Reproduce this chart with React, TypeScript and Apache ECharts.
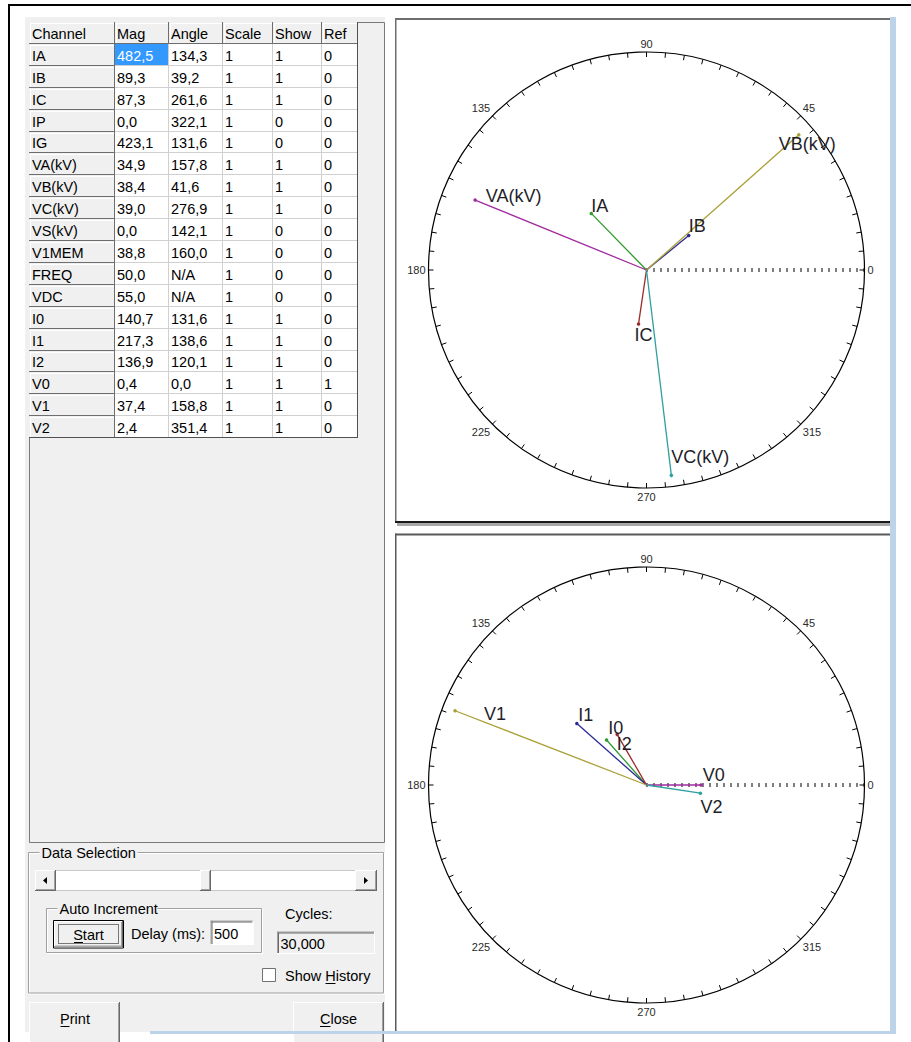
import React, { useEffect, useRef } from 'react';
import * as echarts from 'echarts';

// ---------------- data ----------------
const headers = ['Channel', 'Mag', 'Angle', 'Scale', 'Show', 'Ref'];
const channels = ['IA', 'IB', 'IC', 'IP', 'IG', 'VA(kV)', 'VB(kV)', 'VC(kV)', 'VS(kV)', 'V1MEM', 'FREQ', 'VDC', 'I0', 'I1', 'I2', 'V0', 'V1', 'V2'];
const mags = [482.5, 89.3, 87.3, 0.0, 423.1, 34.9, 38.4, 39.0, 0.0, 38.8, 50.0, 55.0, 140.7, 217.3, 136.9, 0.4, 37.4, 2.4];
const angles: (number | null)[] = [134.3, 39.2, 261.6, 322.1, 131.6, 157.8, 41.6, 276.9, 142.1, 160.0, null, null, 131.6, 138.6, 120.1, 0.0, 158.8, 351.4];
const scaleFlags = [1, 1, 1, 1, 1, 1, 1, 1, 1, 1, 1, 1, 1, 1, 1, 1, 1, 1];
const showFlags = [1, 1, 1, 0, 0, 1, 1, 1, 0, 0, 0, 0, 1, 1, 1, 1, 1, 1];
const refFlags = [0, 0, 0, 0, 0, 0, 0, 0, 0, 0, 0, 0, 0, 0, 0, 1, 0, 0];

const phaseChannels = ['IA', 'IB', 'IC', 'VA(kV)', 'VB(kV)', 'VC(kV)'];
const seqChannels = ['I0', 'I1', 'I2', 'V0', 'V1', 'V2'];

// full-scale of each diagram (voltage kV, current A) and minimum drawn length
const TOP_VOLT_MAX = 41.1;
const TOP_CURR_MAX = 1330;
const BOT_VOLT_MAX = 39.7;
const BOT_CURR_MAX = 510;
const MIN_FRAC = 0.25;

const delayMs = '500';
const cycles = '30,000';

// ---------------- styles ----------------
const channelColors: Record<string, string> = {
  IA: '#2f9a2f', IB: '#2a2a96', IC: '#9c2a2a', 'VA(kV)': '#a02aa0', 'VB(kV)': '#aaa035', 'VC(kV)': '#2fa0a0',
  I0: '#2f9a2f', I1: '#2a2a96', I2: '#9c2a2a', V0: '#a02aa0', V1: '#aaa035', V2: '#2fa0a0',
};
const labelOffsets: Record<string, [number, number]> = {
  IA: [0, -7], IB: [0, -9.5], IC: [-4, 11.5], 'VA(kV)': [10.7, -4], 'VB(kV)': [-20, 9.5], 'VC(kV)': [0, -18.5],
  V1: [29, 3], I1: [1.3, -9], I0: [1.7, -12], I2: [-0.5, 10], V0: [1.7, -10], V2: [0, 14],
};

const UI_FONT = '14.5px "Liberation Sans", Arial, sans-serif';
const PANEL = '#f0f0f0';

const T = (x: number, y: number, text: string, extra: any = {}) => ({
  type: 'text', x, y, silent: true,
  style: {
    text, font: UI_FONT, fill: '#000',
    align: 'left', verticalAlign: 'middle', textAlign: 'left', textVerticalAlign: 'middle',
    ...extra,
  },
});
const R = (x: number, y: number, w: number, h: number, style: any) => ({
  type: 'rect', silent: true, shape: { x, y, width: w, height: h }, style,
});
const L = (x1: number, y1: number, x2: number, y2: number, stroke: string, lineWidth = 1, extra: any = {}) => ({
  type: 'line', silent: true, shape: { x1, y1, x2, y2 }, style: { stroke, lineWidth, ...extra },
});

const raised = (x: number, y: number, w: number, h: number, fill = PANEL) => [
  R(x, y, w, h, { fill }),
  L(x, y + 0.5, x + w - 1, y + 0.5, '#ffffff'),
  L(x + 0.5, y, x + 0.5, y + h - 1, '#ffffff'),
  L(x, y + h - 0.5, x + w, y + h - 0.5, '#696969'),
  L(x + w - 0.5, y, x + w - 0.5, y + h, '#696969'),
  L(x + 1, y + h - 1.5, x + w - 1, y + h - 1.5, '#a0a0a0'),
  L(x + w - 1.5, y + 1, x + w - 1.5, y + h - 1, '#a0a0a0'),
];
const sunken = (x: number, y: number, w: number, h: number, fill: string) => [
  R(x, y, w, h, { fill }),
  L(x, y + 0.5, x + w, y + 0.5, '#a0a0a0'),
  L(x + 0.5, y, x + 0.5, y + h, '#a0a0a0'),
  L(x + 1, y + 1.5, x + w - 1, y + 1.5, '#696969'),
  L(x + 1.5, y + 1, x + 1.5, y + h - 1, '#696969'),
  L(x, y + h - 0.5, x + w, y + h - 0.5, '#ffffff'),
  L(x + w - 0.5, y, x + w - 0.5, y + h, '#ffffff'),
];
const groupBox = (x: number, y: number, w: number, h: number, label: string, labelW: number) => [
  R(x + 1, y + 1, w, h, { fill: 'none', stroke: '#ffffff', lineWidth: 1 }),
  R(x, y, w, h, { fill: 'none', stroke: '#a0a0a0', lineWidth: 1 }),
  R(x + 11, y - 7, labelW, 14, { fill: PANEL }),
  T(x + 13, y + 0.5, label),
];

function fmt(v: number | null) {
  return v === null ? 'N/A' : v.toFixed(1).replace('.', ',');
}

function buildTable() {
  const cols = [29, 115, 169, 223, 273, 322, 358];
  const top = 22;
  const rowH = 21.9;
  const els: any[] = [];
  const rows: string[][] = [headers];
  channels.forEach((ch, i) => {
    rows.push([ch, fmt(mags[i]), fmt(angles[i]), String(scaleFlags[i]), String(showFlags[i]), String(refFlags[i])]);
  });
  rows.forEach((row, r) => {
    const y0 = Math.round(top + r * rowH);
    const y1 = Math.round(top + (r + 1) * rowH);
    row.forEach((cell, c) => {
      const x0 = cols[c];
      const x1 = cols[c + 1];
      const fixed = r === 0 || c === 0;
      const selected = r === 1 && c === 1;
      if (fixed) {
        els.push(R(x0, y0, x1 - x0, y1 - y0, { fill: PANEL }));
        els.push(L(x0 + 1, y0 + 1.5, x1 - 1, y0 + 1.5, '#ffffff'));
        els.push(L(x0 + 1.5, y0 + 1, x0 + 1.5, y1 - 1, '#ffffff'));
        els.push(L(x0, y1 - 0.5, x1, y1 - 0.5, '#6e6e6e'));
        els.push(L(x1 - 0.5, y0, x1 - 0.5, y1, '#6e6e6e'));
      } else {
        els.push(R(x0, y0, x1 - x0, y1 - y0, { fill: selected ? '#3399ff' : '#ffffff' }));
        els.push(L(x0, y1 - 0.5, x1, y1 - 0.5, '#d0d0d0'));
        els.push(L(x1 - 0.5, y0, x1 - 0.5, y1, '#d0d0d0'));
      }
      els.push(T(x0 + (c === 0 ? 3 : 2), (y0 + y1) / 2 + 0.5, cell, { fill: selected ? '#ffffff' : '#000000' }));
    });
  });
  const bottom = Math.round(top + rows.length * rowH);
  els.push(L(cols[0], bottom - 0.5, cols[6], bottom - 0.5, '#505050'));
  els.push(L(cols[6] - 0.5, top, cols[6] - 0.5, bottom, '#505050'));
  return els;
}

function buildGraphic() {
  const els: any[] = [];
  // window frame
  els.push(R(8, 4, 903, 2, { fill: '#000' }));
  els.push(R(8, 4, 2, 1038, { fill: '#000' }));
  // left panel
  els.push(R(25, 17, 360, 1015, { fill: PANEL }));
  // grid control
  els.push(R(29.5, 22.5, 355, 820, { fill: PANEL, stroke: '#7a7a7a', lineWidth: 1 }));
  els.push(...buildTable());

  // Data Selection group
  els.push(...groupBox(28.5, 852.5, 355, 140.5, 'Data Selection', 98));
  // scrollbar
  els.push(R(35.5, 870.5, 341, 20, { fill: '#ffffff', stroke: '#c8c8c8', lineWidth: 1 }));
  els.push(...raised(35, 870, 21, 21));
  els.push({ type: 'polygon', silent: true, shape: { points: [[43, 880.5], [47, 877], [47, 884]] }, style: { fill: '#000' } });
  els.push(...raised(200, 870, 11, 21));
  els.push(...raised(355, 870, 22, 21));
  els.push({ type: 'polygon', silent: true, shape: { points: [[368, 880.5], [364, 877], [364, 884]] }, style: { fill: '#000' } });

  // Auto Increment group
  els.push(...groupBox(46.5, 908.5, 215, 44, 'Auto Increment', 100));
  els.push(R(53.5, 920.5, 70, 27.5, { fill: 'none', stroke: '#000', lineWidth: 1 }));
  els.push(...raised(54, 921, 69, 26.5));
  els.push(R(58.5, 924.5, 60, 19, { fill: 'none', stroke: '#000', lineWidth: 1, lineDash: [1, 1] }));
  els.push(T(88.5, 934.5, 'Start', { align: 'center', textAlign: 'center' }));
  els.push(L(74, 942.5, 83, 942.5, '#000'));
  els.push(T(131, 934, 'Delay (ms):'));
  els.push(...sunken(210.5, 920.5, 43, 24.5, '#ffffff'));
  els.push(T(214, 933.5, delayMs));

  // Cycles
  els.push(T(285, 914, 'Cycles:'));
  els.push(...sunken(277, 931.5, 98, 22.5, PANEL));
  els.push(T(280.5, 943.5, cycles));

  // Show History
  els.push(R(262.5, 968.5, 13, 13, { fill: '#ffffff', stroke: '#707070', lineWidth: 1 }));
  els.push(T(285, 975.5, 'Show History'));
  els.push(L(325.5, 983.5, 335.5, 983.5, '#000'));

  // Print / Close
  els.push(...raised(29, 1002, 91, 45));
  els.push(T(75, 1018.5, 'Print', { align: 'center', textAlign: 'center' }));
  els.push(L(60.5, 1026.5, 69.5, 1026.5, '#000'));
  els.push(...raised(293, 1002, 91, 45));
  els.push(T(338.5, 1018.5, 'Close', { align: 'center', textAlign: 'center' }));
  els.push(L(320, 1026.5, 330.5, 1026.5, '#000'));

  // right panels
  els.push(R(395, 18, 496, 2, { fill: '#6e6e6e' }));
  els.push(R(395, 18, 1.5, 505, { fill: '#6e6e6e' }));
  els.push(R(397, 523, 495, 3, { fill: '#a8a8a8' }));
  els.push(R(395, 521, 497, 2, { fill: '#1a1a1a' }));
  els.push(R(395, 533.5, 496, 2, { fill: '#5a5a5a' }));
  els.push(R(395, 533.5, 1.5, 498, { fill: '#5a5a5a' }));
  // window blue edges
  els.push(R(890, 17, 6, 1017, { fill: '#bcd3ea' }));
  els.push(R(150, 1031, 746, 3, { fill: '#bcd3ea' }));
  return els;
}

function phasorSeries(list: string[], polarIndex: number, vMax: number, iMax: number) {
  return list
    .filter((ch) => showFlags[channels.indexOf(ch)] === 1)
    .map((ch) => {
      const i = channels.indexOf(ch);
      const isV = ch.startsWith('V');
      const frac = Math.max(MIN_FRAC, mags[i] / (isV ? vMax : iMax));
      const ang = angles[i] as number;
      const color = channelColors[ch];
      const [dx, dy] = labelOffsets[ch];
      return {
        type: 'line',
        name: ch,
        coordinateSystem: 'polar',
        polarIndex,
        silent: true,
        z: 3,
        lineStyle: { color, width: 1.3 },
        itemStyle: { color },
        data: [
          { value: [0, ang], symbol: 'none' },
          {
            value: [frac, ang],
            symbol: 'circle',
            symbolSize: 3.5,
            label: {
              show: true,
              formatter: ch,
              position: 'inside',
              offset: [dx, dy],
              align: 'left',
              verticalAlign: 'middle',
              fontSize: 18,
              lineHeight: 13,
              fontFamily: '"Liberation Sans", Arial, sans-serif',
              color: '#1e1e2a',
            },
          },
        ],
      };
    });
}

function angleAxis(polarIndex: number) {
  return {
    polarIndex,
    type: 'value',
    min: 0,
    max: 360,
    interval: 45,
    startAngle: 0,
    clockwise: false,
    axisLine: { show: true, lineStyle: { color: '#000', width: 1.2 } },
    axisTick: { show: true, inside: true, length: 5, lineStyle: { color: '#000', width: 1 } },
    minorTick: { show: true, splitNumber: 9, length: 5, lineStyle: { color: '#000', width: 1 } },
    splitLine: { show: false },
    minorSplitLine: { show: false },
    splitArea: { show: false },
    axisLabel: {
      show: true,
      margin: 3,
      fontSize: 11,
      fontFamily: '"Liberation Sans", Arial, sans-serif',
      color: '#2a2a2a',
      formatter: (v: number) => (v >= 360 ? '' : String(v)),
    },
  };
}

function radiusAxis(polarIndex: number) {
  return {
    polarIndex,
    type: 'value',
    min: 0,
    max: 1,
    axisLine: { show: true, lineStyle: { color: '#000', width: 4, type: [1, 6], cap: 'butt' } },
    axisTick: { show: false },
    axisLabel: { show: false },
    splitLine: { show: false },
    splitArea: { show: false },
  };
}

function buildOption() {
  return {
    animation: false,
    backgroundColor: '#ffffff',
    polar: [
      { center: [646.5, 270], radius: 218 },
      { center: [646.5, 785], radius: 218 },
    ],
    angleAxis: [angleAxis(0), angleAxis(1)],
    radiusAxis: [radiusAxis(0), radiusAxis(1)],
    graphic: { elements: buildGraphic() },
    series: [
      ...phasorSeries(phaseChannels, 0, TOP_VOLT_MAX, TOP_CURR_MAX),
      ...phasorSeries(seqChannels, 1, BOT_VOLT_MAX, BOT_CURR_MAX),
    ],
  };
}

export default function App() {
  const ref = useRef<HTMLDivElement>(null);
  useEffect(() => {
    if (!ref.current) return;
    const chart = echarts.init(ref.current, undefined, { renderer: 'svg' });
    chart.setOption(buildOption() as any);
    return () => chart.dispose();
  }, []);
  return <div ref={ref} style={{ position: 'fixed', left: 0, top: 0, width: 911, height: 1042 }} />;
}
